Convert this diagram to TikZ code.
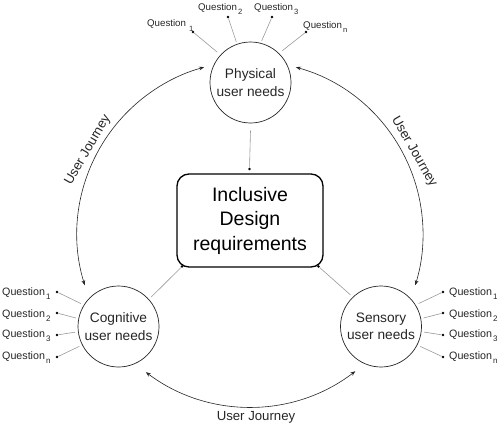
\documentclass[tikz,border=0pt]{standalone}
\usepackage{fontspec}
\setmainfont{Liberation Sans}
\usetikzlibrary{arrows.meta,calc}
\definecolor{ink}{HTML}{262626}
\newcommand\qsub[1]{\kern1pt\raisebox{-4pt}{\fontsize{8}{8}\selectfont #1}}
\newcommand\qsubt[1]{\kern1pt\raisebox{-4.5pt}{\fontsize{7.6}{8}\selectfont #1}}
\tikzset{
  need/.style={circle, draw=ink, line width=0.7pt, minimum size=81pt, inner sep=0pt, align=center,
    font=\fontsize{13.7}{17.5}\selectfont, text=ink},
  req/.style={draw=black, line width=1.3pt, rounded corners=12pt, minimum width=146pt, minimum height=93pt,
    align=center, inner sep=0pt, font=\fontsize{19.5}{24.5}\selectfont, text=black},
  qline/.style={draw=black!40, line width=0.6pt},
  qdot/.style={circle, fill=black, inner sep=0pt, minimum size=2.8pt},
  qtop/.style={font=\fontsize{9.7}{11}\selectfont, inner sep=0pt, text=ink, anchor=base west},
  qside/.style={font=\fontsize{10.7}{12}\selectfont, inner sep=0pt, text=ink, anchor=base west},
  journey/.style={draw=ink, line width=0.6pt, {Stealth[length=5pt,width=3.8pt]}-{Stealth[length=5pt,width=3.8pt]}},
  jlabel/.style={font=\fontsize{13.2}{15}\selectfont, inner sep=0pt, text=ink},
}
\begin{document}
\begin{tikzpicture}[x=1pt,y=-1pt]
\useasboundingbox (0,0) rectangle (500,423);

% main nodes
\node[need] (phys) at (250.5,82.5) {Physical\\user needs};
\node[need] (cog) at (118.5,326.5) {Cognitive\\user needs};
\node[need] (sens) at (381,326.5) {Sensory\\user needs};
\node[req] (req) at (250,220.5) {Inclusive\\Design\\requirements};

% links to requirements
\node[qdot] (dp) at (249.5,169) {};
\node[qdot] (dc) at (182,266.5) {};
\node[qdot] (ds) at (318.5,266.5) {};
\draw[qline] ($(phys.center)+(90:48)$) -- (dp);
\draw[qline] ($(cog.center)+(-42:44)$) -- (dc);
\draw[qline] ($(sens.center)+(226:44)$) -- (ds);

% user journey arcs
\coordinate (cen) at (250,234);
\draw[journey] ($(cen)+(162.8:173)$) arc[start angle=162.8, end angle=254.6, radius=173];
\draw[journey] ($(cen)+(285.4:173)$) arc[start angle=285.4, end angle=377.2, radius=173];
\draw[journey] ($(cen)+(52.5:173)$) arc[start angle=52.5, end angle=127, radius=173];
\node[jlabel, rotate=60] (jl) at (88,150) {User Journey};
\node[jlabel, rotate=-60] (jr) at (414,152) {User Journey};
\node[jlabel, anchor=base] (jb) at (256,420) {User Journey};

% top questions
\node[qdot] (t1) at (193,32) {};
\node[qdot] (t2) at (228,17) {};
\node[qdot] (t3) at (272,17) {};
\node[qdot] (tn) at (306,32) {};
\draw[qline] (t1) -- ($(phys.center)+(222.4:45)$);
\draw[qline] (t2) -- ($(phys.center)+(250.7:43)$);
\draw[qline] (t3) -- ($(phys.center)+(285:43)$);
\draw[qline] (tn) -- ($(phys.center)+(315:45)$);
\node[qtop] (lt1) at (147,27) {Question\kern2pt\qsubt{1}};
\node[qtop] (lt2) at (198,10) {Question\qsubt{2}};
\node[qtop] (lt3) at (254,10) {Question\qsubt{3}};
\node[qtop] (ltn) at (303,28) {Question\qsubt{n}};

% left questions
\node[qdot] (c1) at (57,292) {};
\node[qdot] (c2) at (57,313) {};
\node[qdot] (c3) at (57,335) {};
\node[qdot] (cn) at (57,357) {};
\draw[qline] (c1) -- ($(cog.center)+(211.4:44)$);
\draw[qline] (c2) -- ($(cog.center)+(191.3:43.5)$);
\draw[qline] (c3) -- ($(cog.center)+(172.6:43.5)$);
\draw[qline] (cn) -- ($(cog.center)+(153.1:44)$);
\node[qside] (lc1) at (2,295) {Question\qsub{1}};
\node[qside] (lc2) at (2,317) {Question\qsub{2}};
\node[qside] (lc3) at (2,337) {Question\qsub{3}};
\node[qside] (lcn) at (2,359) {Question\qsub{n}};

% right questions
\node[qdot] (s1) at (443,292) {};
\node[qdot] (s2) at (443,313) {};
\node[qdot] (s3) at (443,335) {};
\node[qdot] (sn) at (443,357) {};
\draw[qline] (s1) -- ($(sens.center)+(328.6:44)$);
\draw[qline] (s2) -- ($(sens.center)+(348.7:43.5)$);
\draw[qline] (s3) -- ($(sens.center)+(7.4:43.5)$);
\draw[qline] (sn) -- ($(sens.center)+(26.9:44)$);
\node[qside] (ls1) at (449,295) {Question\qsub{1}};
\node[qside] (ls2) at (449,317) {Question\qsub{2}};
\node[qside] (ls3) at (449,337) {Question\qsub{3}};
\node[qside] (lsn) at (449,359) {Question\qsub{n}};
\end{tikzpicture}
\end{document}
